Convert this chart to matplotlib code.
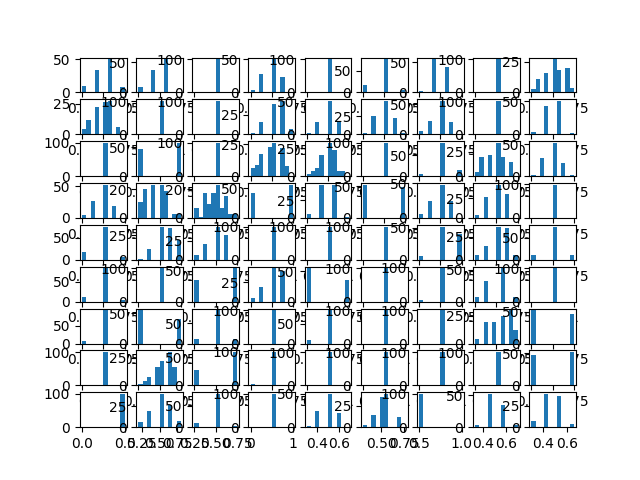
import numpy as np
import matplotlib
matplotlib.use("Agg")
import matplotlib.pyplot as plt

# Counts per 10-bin histogram, one list per grid row (9 panels each)
C = [0, 0, 0, 0, 0, 100, 0, 0, 0, 0]   # constant column -> single bar

row0_counts = [
    [10, 0, 0, 34, 0, 0, 50, 0, 0, 8],
    [9, 0, 0, 37, 0, 0, 55, 0, 0, 0],
    C,
    [4, 0, 28, 0, 0, 50, 0, 24, 0, 0],
    C,
    [18, 0, 0, 0, 0, 76, 0, 0, 0, 6],
    [3, 0, 0, 55, 0, 0, 42, 0, 0, 0],
    C,
    [3, 11, 0, 16, 0, 27, 18, 0, 20, 4],
]
row1_counts = [
    [4, 12, 0, 22, 0, 26, 27, 0, 6, 0],
    C,
    C,
    [2, 0, 15, 0, 0, 38, 0, 42, 0, 7],
    [2, 0, 18, 0, 0, 50, 0, 19, 0, 0],
    [2, 0, 26, 0, 0, 46, 0, 22, 0, 2],
    [5, 0, 22, 0, 0, 55, 0, 20, 0, 0],
    C,
    [3, 0, 0, 42, 0, 0, 50, 0, 0, 2],
]
row2_counts = [
    C,
    [47, 0, 0, 0, 0, 0, 0, 0, 0, 57],
    C,
    [6, 9, 17, 0, 23, 26, 0, 22, 8, 0],
    [2, 5, 7, 19, 0, 30, 24, 5, 5, 0],
    C,
    [4, 0, 0, 0, 0, 80, 0, 0, 0, 14],
    [4, 20, 0, 22, 0, 34, 20, 0, 14, 0],
    [2, 0, 28, 0, 0, 52, 0, 21, 0, 2],
]
row3_counts = [
    [4, 0, 27, 0, 0, 52, 0, 19, 0, 0],
    [11, 20, 0, 23, 0, 23, 19, 0, 3, 3],
    [7, 1, 17, 10, 17, 23, 7, 15, 3, 3],
    [42, 0, 0, 0, 0, 0, 0, 0, 0, 56],
    [6, 0, 0, 47, 0, 0, 46, 0, 0, 1],
    [52, 0, 0, 0, 0, 0, 0, 0, 0, 48],
    [6, 0, 24, 0, 0, 48, 0, 24, 0, 0],
    [4, 0, 26, 0, 0, 42, 0, 30, 0, 0],
    [1, 0, 0, 0, 0, 98, 0, 0, 0, 1],
]
row4_counts = [
    [17, 0, 0, 0, 0, 75, 0, 0, 0, 7],
    [1, 0, 11, 0, 0, 34, 0, 33, 0, 20],
    [6, 0, 20, 0, 0, 43, 0, 32, 0, 0],
    C,
    C,
    C,
    [6, 0, 0, 0, 0, 52, 0, 0, 0, 40],
    [5, 0, 15, 0, 0, 36, 0, 35, 0, 5],
    [11, 0, 0, 0, 0, 76, 0, 0, 0, 10],
]
row5_counts = [
    [12, 0, 0, 0, 0, 84, 0, 0, 0, 4],
    C,
    [36, 0, 0, 0, 0, 0, 0, 0, 0, 54],
    [5, 0, 19, 0, 0, 43, 0, 40, 0, 0],
    [55, 0, 0, 0, 0, 0, 0, 0, 0, 36],
    C,
    [4, 0, 0, 0, 0, 96, 0, 0, 0, 0],
    [8, 0, 32, 0, 0, 0, 52, 0, 0, 8],
    C,
]
row6_counts = [
    [6, 0, 0, 0, 0, 94, 0, 0, 0, 0],
    [55, 0, 0, 0, 0, 0, 0, 0, 0, 40],
    [11, 0, 0, 0, 0, 82, 0, 0, 0, 12],
    C,
    [8, 0, 0, 0, 0, 84, 0, 0, 0, 0],
    C,
    C,
    [4, 0, 19, 0, 19, 0, 25, 0, 30, 12],
    [52, 0, 0, 0, 0, 0, 0, 0, 0, 46],
]
row7_counts = [
    C,
    [1, 4, 8, 0, 17, 22, 0, 30, 17, 0],
    [28, 0, 0, 0, 0, 0, 0, 0, 0, 59],
    [3, 0, 0, 0, 0, 97, 0, 0, 0, 0],
    C,
    C,
    C,
    C,
    [48, 0, 0, 0, 0, 0, 0, 0, 0, 52],
]
row8_counts = [
    [1, 0, 0, 0, 0, 0, 0, 0, 0, 99],
    [6, 0, 20, 0, 0, 40, 0, 27, 0, 8],
    [9, 0, 0, 0, 0, 78, 0, 0, 0, 3],
    C,
    [2, 0, 25, 0, 0, 50, 0, 22, 0, 1],
    [2, 0, 14, 0, 36, 39, 0, 0, 12, 0],
    [99, 0, 0, 0, 0, 0, 0, 0, 0, 1],
    [4, 0, 0, 52, 0, 0, 34, 0, 0, 3],
    [7, 0, 0, 39, 0, 0, 37, 0, 0, 4],
]

# data range (min, max) of each bottom-row panel
row8_lo = [0.0, 0.2, 0.25, 0.0, 0.3, 0.3, 0.5, 0.33, 0.3]
row8_hi = [0.5, 0.8, 0.75, 1.0, 0.7, 0.76, 1.0, 0.7, 0.66]
# default ranges for other panels
multi_lo, multi_hi = 0.25, 0.75
const_lo, const_hi = 0.0, 1.0

all_rows = [row0_counts, row1_counts, row2_counts, row3_counts, row4_counts,
            row5_counts, row6_counts, row7_counts, row8_counts]

fig, axes = plt.subplots(9, 9, figsize=(6.4, 4.8), dpi=100)
for r, counts_row in enumerate(all_rows):
    for c, counts in enumerate(counts_row):
        ax = axes[r, c]
        if r == 8:
            lo, hi = row8_lo[c], row8_hi[c]
        elif counts is C:
            lo, hi = const_lo, const_hi
        else:
            lo, hi = multi_lo, multi_hi
        edges = np.linspace(lo, hi, 11)
        centers = (edges[:-1] + edges[1:]) / 2
        ax.hist(centers, bins=edges, weights=counts, color="#1f77b4")

fig.savefig("out.png", dpi=100)
